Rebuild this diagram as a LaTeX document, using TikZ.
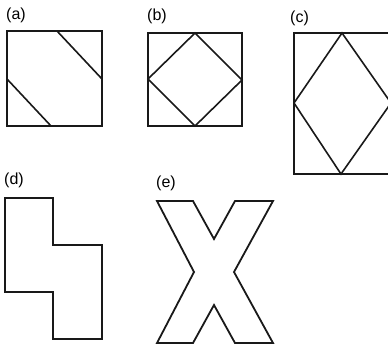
\documentclass[tikz,border=0pt]{standalone}
\usepackage{fontspec}
\setmainfont{Liberation Sans}
\usetikzlibrary{positioning}
\tikzset{
    outline/.style={draw=black!90, line width=1.8pt, line join=miter},
    cutline/.style={draw=black!90, line width=1.6pt},
    panellbl/.style={font=\fontsize{16}{19}\selectfont, inner sep=0pt, anchor=west},
}
\begin{document}
\begin{tikzpicture}[x=1pt, y=-1pt]
    \useasboundingbox (0,0) rectangle (388,346);
    \clip (0,0) rectangle (388,346);
    % panel labels
    \node[panellbl] (lbla) at (6,15) {(a)};
    \node[panellbl] (lblb) at (147,16) {(b)};
    \node[panellbl] (lblc) at (290,18) {(c)};
    \node[panellbl] (lbld) at (4,180) {(d)};
    \node[panellbl] (lble) at (156,183) {(e)};
    % (a) square with two cut corners
    \draw[outline] (7,31) rectangle (102,126);
    \draw[cutline] (57,31) -- (102,79);
    \draw[cutline] (7,79) -- (51,126);
    % (b) square with inscribed diamond
    \draw[outline] (148,33) rectangle (242,126);
    \draw[cutline] (195,33) -- (242,80) -- (195,126) -- (148,79) -- cycle;
    % (c) tall rectangle with diamond, cut off at the right
    \draw[outline] (294,33) rectangle (393,174);
    \draw[cutline] (342,33) -- (391,103) -- (341,174) -- (294,103) -- cycle;
    % (d) stepped outline
    \draw[outline] (5,198) -- (53,198) -- (53,245) -- (102,245) -- (102,339)
        -- (53,339) -- (53,292) -- (5,292) -- cycle;
    % (e) letter X outline
    \draw[outline] (157,201) -- (193,201) -- (214,239) -- (235,201) -- (273,201)
        -- (234,272) -- (273,343) -- (235,343) -- (214,305) -- (193,343)
        -- (157,343) -- (194,272) -- cycle;
\end{tikzpicture}
\end{document}
